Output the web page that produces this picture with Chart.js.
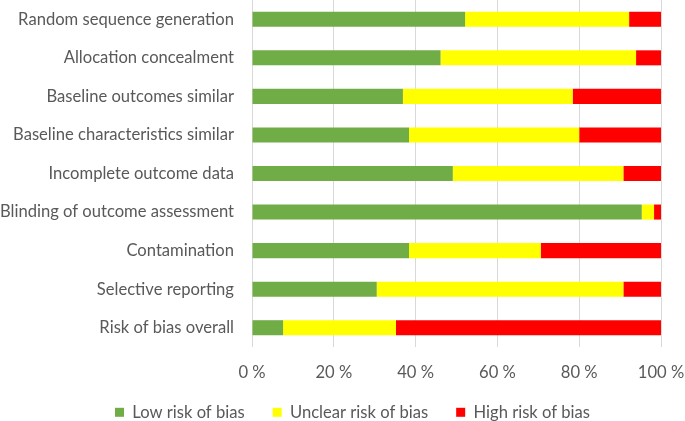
<!DOCTYPE html>
<html>
<head>
<meta charset="utf-8">
<script src="https://cdn.jsdelivr.net/npm/chart.js@4"></script>
<style>
  html, body { margin: 0; padding: 0; background: #fff; }
  .chart-container { width: 685px; height: 421px; }
</style>
</head>
<body>
<div class="chart-container">
  <canvas id="chart"></canvas>
</div>
<script>
const domains = [
  'Random sequence generation',
  'Allocation concealment',
  'Baseline outcomes similar',
  'Baseline characteristics similar',
  'Incomplete outcome data',
  'Blinding of outcome assessment',
  'Contamination',
  'Selective reporting',
  'Risk of bias overall',
];
const lowRisk = [52.1, 46.1, 36.9, 38.4, 49.1, 95.3, 38.4, 30.5, 7.6];
const unclearRisk = [40.1, 47.8, 41.5, 41.6, 41.7, 3.0, 32.2, 60.3, 27.6];
const highRisk = [7.8, 6.1, 21.6, 20.0, 9.2, 1.7, 29.4, 9.2, 64.8];
const xTicks = [0, 20, 40, 60, 80, 100];

const ctx = document.getElementById('chart').getContext('2d');
const font = { family: 'Lato, "Open Sans", sans-serif', size: 16.6 };

// the legend label padding (wide gaps between items) also pads it vertically,
// so squeeze its box and move it a little
const legendFix = {
  id: 'legendFix',
  beforeLayout(chart) {
    const legend = chart.legend;
    if (legend && !legend._squeezed) {
      const fit = legend.fit;
      legend.fit = function () {
        fit.call(this);
        this.height = 39;
      };
      legend._squeezed = true;
    }
  },
  afterLayout(chart) {
    chart.legend.top -= 6;
    chart.legend.left += 22;
    chart.legend.right += 22;
  },
};

new Chart(ctx, {
  type: 'bar',
  data: {
    labels: domains,
    datasets: [
      { label: 'Low risk of bias', data: lowRisk, backgroundColor: '#70AD47' },
      { label: 'Unclear risk of bias', data: unclearRisk, backgroundColor: '#FFFF00' },
      { label: 'High risk of bias', data: highRisk, backgroundColor: '#FF0000' },
    ],
  },
  plugins: [legendFix],
  options: {
    indexAxis: 'y',
    responsive: true,
    maintainAspectRatio: false,
    animation: false,
    datasets: {
      bar: { barPercentage: 0.39, categoryPercentage: 1.0 },
    },
    layout: { padding: { top: 0, right: 24, bottom: 0, left: 0 } },
    plugins: {
      tooltip: { enabled: false },
      legend: {
        position: 'bottom',
        labels: {
          font: font,
          color: '#595959',
          boxWidth: 9,
          boxHeight: 9,
          padding: 28,
        },
      },
    },
    scales: {
      x: {
        stacked: true,
        min: 0,
        max: 100,
        afterBuildTicks: (scale) => {
          scale.ticks = xTicks.map((v) => ({ value: v }));
        },
        afterFit: (scale) => {
          scale.height = 35;
          scale.paddingLeft = 0;
          scale.paddingRight = 0;
        },
        grid: { color: '#d9d9d9', lineWidth: 1, drawTicks: false },
        border: { display: false },
        ticks: {
          font: font,
          color: '#595959',
          padding: 16,
          maxRotation: 0,
          callback: (v) => v + ' %',
        },
      },
      y: {
        stacked: true,
        grid: { display: false, drawTicks: false },
        border: { display: false },
        afterFit: (scale) => {
          scale.width = 252;
          scale.paddingTop = 0;
          scale.paddingBottom = 0;
        },
        ticks: {
          font: font,
          color: '#595959',
          padding: 18,
        },
      },
    },
  },
});
</script>
</body>
</html>
